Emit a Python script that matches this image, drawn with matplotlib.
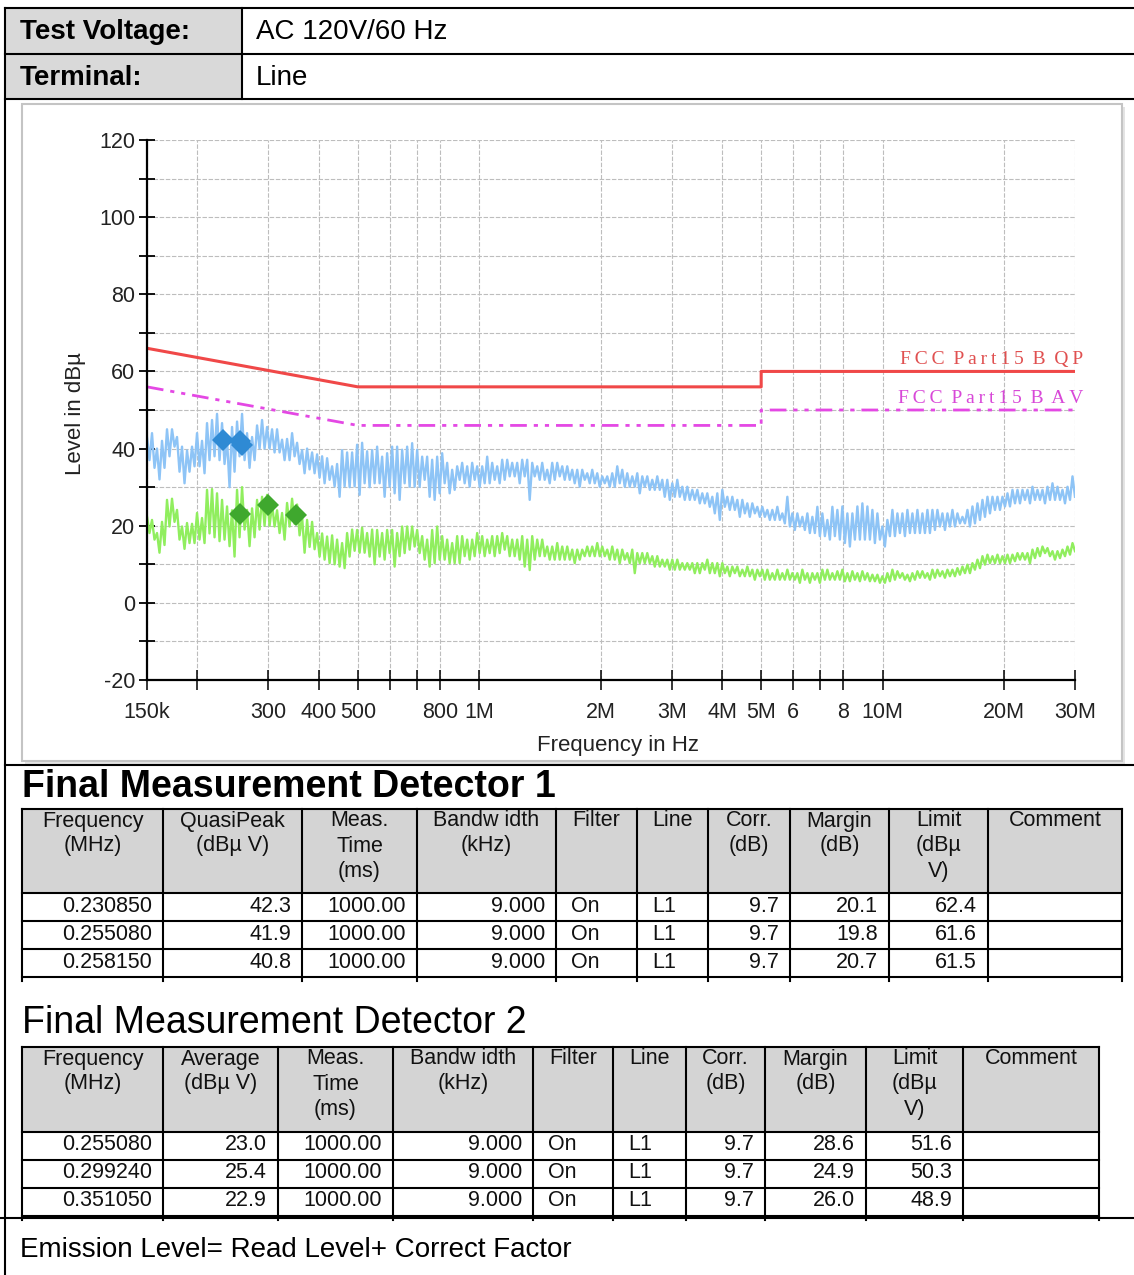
import numpy as np
import matplotlib
matplotlib.use("Agg")
import matplotlib.pyplot as plt
from matplotlib.lines import Line2D
from matplotlib.patches import Rectangle
from matplotlib.ticker import FixedLocator, NullLocator, FixedFormatter

# ---------------- data ----------------
TEST_VOLTAGE = "AC 120V/60 Hz"
TERMINAL = "Line"

# sweep range (MHz); the traces below are read as alternating (high, low) envelope samples
SWEEP_START_MHZ = 0.15
SWEEP_STOP_MHZ = 30.0

PEAK_HI = [43, 44, 40, 42, 45, 45, 43, 40.5, 39.5, 40.5,
           44, 42, 46.6, 47.4, 49, 46.6, 42.3, 45.6, 47, 49,
           44, 43, 46, 47.4, 45.6, 45, 45, 42.3, 42.5, 44,
           41.5, 39.6, 40, 39, 38.5, 38, 37.5, 35.4, 36, 39.6,
           39, 39, 41, 41.5, 39.3, 39.6, 40.5,
           37.9, 38.8, 40.5, 40.5, 39.7, 40.5, 41.4, 39.7, 37.9, 37.9,
           37.1, 37.9, 38.8, 36.3, 34.5, 35.4, 36.3, 35.4, 36.3, 35.4,
           35.4, 37.9, 36.3, 35.4, 37.1, 37.1, 36.3, 36.3, 37.1, 37.1,
           36.3, 35.4, 36.3, 34.5, 36.3, 36.3, 35.4, 35.4, 34.5, 34.5,
           34.5, 33.6, 34.5, 33.6, 32.8,
           32.8, 33.6, 35.4, 34.5, 33.6, 32.8, 33.6, 32.8, 32.8, 31.9,
           32.8, 31.9, 31.9, 31, 31.9, 30.1, 30.1, 29.3, 29.3, 28.4,
           28.4, 27.5, 28.4, 29.3, 27.5, 27.5, 26.7, 26.7, 25.8, 25.8,
           24.9, 24.9, 24.1, 24.1, 24.9, 23.2, 27.5, 23.2, 23.2, 22.3,
           23.2, 22.3, 24.9, 23.2, 21.5, 24.9,
           24.1, 25, 23.2, 23.2, 25, 25.8, 25, 24.1, 23.2, 19.8,
           21.5, 24.1, 23.2, 23.2, 24.1, 23.2, 24.1, 23.2, 24.1, 24.1,
           24.1, 23.2, 23.2, 24.1, 23.2, 22.3, 24.1, 25, 25.8, 26.7,
           27.5, 27.5, 27.5, 27.5, 28.4, 29.3, 29.3, 29.3, 29.3, 30.1,
           29.3, 29.3, 30.1, 31, 30.1, 29.3, 30.1, 32.8]
PEAK_LO = [37, 35, 32, 35, 38, 40.5, 34, 31, 34, 35.4,
           35.4, 33.6, 37, 38, 37, 36, 30, 34, 38, 37,
           35, 37, 40, 40, 40, 39, 39, 37, 37, 38,
           36, 33.6, 34.6, 33.6, 32.5, 31, 31.9, 30.2, 27.5, 30.2,
           30, 30.2, 28, 31, 30, 31, 31,
           27.5, 30.1, 28.4, 26.7, 31, 30.1, 30.1, 30.1, 31.9, 27.5,
           26.7, 28.4, 31, 28.4, 29.3, 31.9, 31, 30.1, 31.9, 30.1,
           31, 31, 31.9, 31, 31.9, 32.8, 32.8, 31, 32.8, 26.7,
           32.8, 31.9, 31.9, 31, 31.9, 32.8, 31.9, 31.9, 31, 30.1,
           31.9, 31, 31, 30.1, 31,
           30.1, 30.1, 31, 30.1, 30.1, 30.1, 28.4, 30.1, 29.3, 29.3,
           29.3, 27.5, 26.7, 27.5, 27.5, 26.7, 26.7, 26.7, 25.8, 25.8,
           24.9, 23.2, 21.5, 24.9, 24.1, 24.1, 22.3, 23.2, 22.3, 23.2,
           22.3, 22.3, 21.5, 21.5, 21.5, 20.6, 19.8, 18.9, 19.8, 18.9,
           18.1, 18.1, 17.3, 17.3, 16.4, 17.3,
           16.4, 15.5, 14.6, 16.4, 16.4, 16.4, 16.4, 15.5, 16.4, 14.6,
           17.3, 17.3, 18.1, 17.3, 18.1, 18.1, 18.1, 18.1, 18.1, 18.9,
           19.8, 18.9, 19.8, 19.8, 20.6, 20.6, 19.8, 20.6, 21.5, 22.3,
           23.2, 24.1, 24.1, 25, 25, 25.8, 25.8, 26.7, 25.8, 26.7,
           26.7, 25.8, 26.7, 26.7, 26.7, 25.8, 26.7, 27.5]

AVG_HI = [22.4, 21.5, 18.1, 21, 26.7, 27, 24.1, 19.8, 20.7, 20.5,
          23.3, 22, 29.3, 29.5, 28.4, 26.7, 25, 24, 29.3, 30,
          24.1, 24.5, 26.7, 27.5, 28, 25.5, 24, 23.3, 25.9, 27,
          25.5, 22.4, 21.5, 21, 18.1, 18, 17.2, 17.5, 16.4, 15.5,
          18.1, 19, 18.9, 19.5, 18.1, 19, 18.9,
          18.1, 18.9, 18.9, 18.1, 19.8, 19.8, 19.8, 18.9, 17.3, 16.4,
          18.9, 19.8, 17.3, 16.4, 15.5, 17.3, 17.3, 16.4, 16.4, 18.1,
          17.3, 16.4, 17.3, 17.3, 18.1, 17.3, 16.4, 16.4, 17.3, 16.4,
          17.3, 16.4, 16.4, 14.6, 14.6, 15.5, 14.6, 14.6, 13.8, 13.8,
          13.8, 14.6, 14.6, 15.5, 14.6,
          13.8, 14.6, 13.8, 13.8, 12.9, 13.8, 12.9, 12.9, 12.9, 12.1,
          12.1, 11.2, 11.2, 11.2, 11.2, 10.3, 10.3, 10.3, 10.3, 10.3,
          11.2, 10.3, 10.3, 10.3, 9.4, 9.4, 9.4, 8.6, 9.4, 8.6,
          8.6, 8.6, 8.6, 7.7, 8.6, 7.7, 8.6, 7.7, 7.7, 8.6,
          7.7, 7.7, 7.7, 8.6, 8.6, 7.7,
          8.2, 8.6, 7.7, 8.2, 7.7, 8.2, 7.7, 7.3, 7.3, 6.9,
          7.7, 8.6, 8.2, 7.7, 7.3, 7.7, 8.2, 8.2, 7.7, 8.6,
          8.6, 8.2, 8.6, 8.6, 9.0, 9.4, 9.9, 10.3, 11.2, 12.1,
          12.5, 12.1, 12.5, 12.1, 12.5, 12.5, 12.9, 12.9, 12.9, 13.8,
          14.2, 14.6, 14.2, 13.4, 13.4, 13.8, 14.6, 15.5]
AVG_LO = [18.1, 16.4, 13, 15, 19.8, 21, 16.4, 14, 15.5, 15.5,
          16.4, 15.5, 18, 17, 16, 16.4, 14.7, 12, 17, 19,
          14.7, 17, 19, 20, 20, 19.8, 18.1, 16.4, 19.8, 20.5,
          17.5, 13, 14.5, 13.9, 12, 11.2, 10.3, 10, 9.4, 9,
          12, 13.5, 13, 13, 12, 10, 12,
          11.2, 12.9, 9.4, 12.1, 12.9, 13.8, 14.6, 12.9, 11.2, 9.4,
          10.3, 11.2, 11.2, 10.3, 10.3, 10.3, 12.1, 11.2, 12.1, 12.9,
          12.1, 12.9, 12.1, 12.9, 13.8, 12.1, 12.1, 11.2, 9.4, 8.5,
          11.2, 12.1, 12.1, 11.2, 11.2, 11.2, 11.2, 11.2, 10.3, 11.2,
          12.1, 12.1, 12.1, 12.1, 12.1,
          11.2, 11.2, 10.3, 11.2, 10.3, 7.7, 10.3, 10.3, 10.3, 9.4,
          9.4, 9.4, 8.6, 8.6, 8.6, 8.6, 8.6, 7.7, 7.7, 8.6,
          7.7, 7.7, 6.9, 7.7, 6.9, 7.7, 6.9, 6.9, 6.9, 6.0,
          6.9, 6.0, 6.0, 6.0, 6.0, 6.0, 6.0, 6.0, 5.2, 6.0,
          5.2, 6.0, 5.2, 6.0, 6.0, 6.0,
          6.0, 5.6, 5.6, 6.0, 5.6, 6.0, 5.6, 5.6, 5.2, 5.2,
          5.6, 6.0, 6.5, 6.0, 5.6, 6.0, 6.5, 6.5, 6.0, 6.5,
          6.9, 6.5, 6.9, 6.9, 7.3, 7.7, 7.7, 8.6, 9.0, 9.9,
          10.3, 10.3, 10.3, 10.3, 10.3, 10.8, 11.2, 11.2, 10.3, 11.6,
          12.1, 12.9, 12.1, 11.2, 11.6, 12.1, 12.5, 13.4]

# limit lines (MHz, dBµV)
QP_LIMIT_F = [0.15, 0.5, 5.0, 5.0, 30.0]
QP_LIMIT_L = [66, 56, 56, 60, 60]
AV_LIMIT_F = [0.15, 0.5, 5.0, 5.0, 30.0]
AV_LIMIT_L = [56, 46, 46, 50, 50]

# final measurements
QP_FREQ = [0.230850, 0.255080, 0.258150]
QP_LEVEL = [42.3, 41.9, 40.8]
QP_MARGIN = [20.1, 19.8, 20.7]
QP_LIMIT = [62.4, 61.6, 61.5]
AV_FREQ = [0.255080, 0.299240, 0.351050]
AV_LEVEL = [23.0, 25.4, 22.9]
AV_MARGIN = [28.6, 24.9, 26.0]
AV_LIMIT = [51.6, 50.3, 48.9]
CORR = 9.7
MEAS_TIME = "1000.00"
BANDWIDTH = "9.000"

X_TICKS = [0.15, 0.2, 0.3, 0.4, 0.5, 0.6, 0.7, 0.8, 1, 2, 3, 4, 5, 6, 7, 8, 10, 20, 30]
X_TICK_LABELS = ['150k', '', '300', '400', '500', '', '', '800', '1M', '2M', '3M', '4M',
                 '5M', '6', '', '8', '10M', '20M', '30M']

# ---------------- figure ----------------
W, H = 1134, 1275
plt.rcParams['axes.unicode_minus'] = False
fig = plt.figure(figsize=(W / 100, H / 100), dpi=100)
fig.patch.set_facecolor('white')
SANS = ['Liberation Sans', 'DejaVu Sans']
SERIF = ['Liberation Serif', 'DejaVu Serif']
plt.rcParams['font.family'] = SANS


def fx(x):
    return x / W


def fy(y):
    return 1 - y / H


def hline(x0, x1, y, lw=1.5, color='black', z=5):
    fig.add_artist(Line2D([fx(x0), fx(x1)], [fy(y), fy(y)], transform=fig.transFigure,
                          color=color, lw=lw, zorder=z))


def vline(x, y0, y1, lw=1.5, color='black', z=5):
    fig.add_artist(Line2D([fx(x), fx(x)], [fy(y0), fy(y1)], transform=fig.transFigure,
                          color=color, lw=lw, zorder=z))


def rect(x0, y0, x1, y1, fc, ec='none', lw=0, z=-5):
    fig.add_artist(Rectangle((fx(x0), fy(y1)), (x1 - x0) / W, (y1 - y0) / H,
                             transform=fig.transFigure, facecolor=fc, edgecolor=ec,
                             lw=lw, zorder=z))


def text(x, y, s, size=15, ha='left', va='center', weight='normal', family=SANS, color='black', **kw):
    fig.text(fx(x), fy(y), s, fontsize=size, ha=ha, va=va, fontweight=weight,
             family=family, color=color, **kw)


# ---- header table ----
rect(6, 8, 242, 99, '#d9d9d9')
hline(5, 1134, 8)
hline(5, 1134, 54)
hline(5, 1134, 99)
vline(5, 8, 1275)
vline(242, 8, 99)
text(20, 32, "Test Voltage:", size=20, weight='bold')
text(20, 78, "Terminal:", size=20, weight='bold')
text(256, 32, TEST_VOLTAGE, size=20)
text(256, 78, TERMINAL, size=20)

# ---- chart frame ----
rect(25, 107, 1125, 764, '#e4e4e4', z=-6)
rect(22, 104, 1122, 761, 'white', ec='#c4c4c4', lw=1.5, z=-5)
hline(5, 1134, 765)

# ---- chart axes ----
ax = fig.add_axes([fx(147), fy(680), 928 / W, 540 / H])
ax.set_facecolor('none')
ax.set_xscale('log')

sweep = np.geomspace(SWEEP_START_MHZ, SWEEP_STOP_MHZ, 2 * len(PEAK_HI))
peak_trace = np.column_stack([PEAK_HI, PEAK_LO]).ravel()
avg_trace = np.column_stack([AVG_HI, AVG_LO]).ravel()

ax.plot(sweep, peak_trace, color='#8EC4F6', lw=1.7, zorder=3)
ax.plot(sweep, avg_trace, color='#90EE5E', lw=1.7, zorder=3)
ax.plot(QP_LIMIT_F, QP_LIMIT_L, color='#F04848', lw=2.2, zorder=4, solid_capstyle='butt')
ax.plot(AV_LIMIT_F, AV_LIMIT_L, color='#E448E4', lw=2.0, zorder=4,
        linestyle=(0, (6, 2.5, 1.5, 2.5, 1.5, 2.5)))
ax.plot(QP_FREQ, QP_LEVEL, linestyle='none', marker='D', ms=11, mew=0,
        color='#2F8AD4', zorder=5)
ax.plot(AV_FREQ, AV_LEVEL, linestyle='none', marker='D', ms=11, mew=0,
        color='#3FA82E', zorder=5)

ax.set_xlim(0.15, 30)
ax.set_ylim(-20, 120)
ax.xaxis.set_major_locator(FixedLocator(X_TICKS))
ax.xaxis.set_major_formatter(FixedFormatter(X_TICK_LABELS))
ax.xaxis.set_minor_locator(NullLocator())
ax.yaxis.set_major_locator(FixedLocator(list(range(-20, 121, 20))))
ax.yaxis.set_minor_locator(FixedLocator(list(range(-10, 111, 20))))

for s in ['top', 'right']:
    ax.spines[s].set_visible(False)
for s in ['left', 'bottom']:
    ax.spines[s].set_linewidth(1.6)
    ax.spines[s].set_color('black')
    ax.spines[s].set_zorder(6)

ax.tick_params(axis='x', which='major', direction='inout', length=15, width=1.1,
               pad=8, labelsize=15.5, labelcolor='#222222')
ax.tick_params(axis='y', which='both', direction='inout', length=11, width=1.3,
               pad=3, labelsize=15.5, labelcolor='#222222')
ax.grid(True, which='major', axis='x', color='#bdbdbd', lw=0.8, linestyle=(0, (4, 1.5)))
ax.grid(True, which='both', axis='y', color='#bdbdbd', lw=0.8, linestyle=(0, (4, 1.5)))
ax.set_axisbelow(True)

text(618, 745, "Frequency in Hz", size=16, ha='center', color='#222222')
text(75, 414, "Level in dBµ", size=16, ha='center', rotation=90, color='#222222')

ax.text(1.0086, 0.5926, "F\u2009C\u2009C\u2009 P\u2009a\u2009r\u2009t\u20091\u20095\u2009 B\u2009 Q\u2009P",
        transform=ax.transAxes, ha='right', va='center', fontsize=14, family=SERIF,
        color='#E05050', zorder=6)
ax.text(1.0086, 0.522, "F\u2009C\u2009C\u2009 P\u2009a\u2009r\u2009t\u20091\u20095\u2009 B\u2009 A\u2009V",
        transform=ax.transAxes, ha='right', va='center', fontsize=14, family=SERIF,
        color='#D848D8', zorder=6)


# ---- measurement tables ----
def draw_table(edges, top, head_bottom, row_h, headers, rows, aligns):
    n = len(rows)
    bottom = head_bottom + n * row_h
    rect(edges[0], top, edges[-1], head_bottom, '#d4d4d4')
    hline(edges[0], edges[-1], top)
    hline(edges[0], edges[-1], head_bottom)
    for r in range(1, n + 1):
        hline(edges[0], edges[-1], head_bottom + r * row_h)
    for e in edges:
        vline(e, top, bottom + 4)
    for c, h in enumerate(headers):
        cx = (edges[c] + edges[c + 1]) / 2
        for k, line in enumerate(h.split('\n')):
            text(cx, top + 12 + 25 * k, line, size=15.5, ha='center', color='#111111')
    for r, row in enumerate(rows):
        cy = head_bottom + r * row_h + 13
        for c, val in enumerate(row):
            if aligns[c] == 'r':
                text(edges[c + 1] - 11, cy, val, size=15.5, ha='right', color='#111111')
            else:
                text(edges[c] + 15, cy, val, size=15.5, ha='left', color='#111111')


aligns = ['r', 'r', 'r', 'r', 'l', 'l', 'r', 'r', 'r', 'l']

text(22, 787, "Final Measurement Detector 1", size=27, weight='bold')
hdr1 = ["Frequency\n(MHz)", "QuasiPeak\n(dBµ V)", "Meas.\nTime\n(ms)", "Bandw idth\n(kHz)",
        "Filter", "Line", "Corr.\n(dB)", "Margin\n(dB)", "Limit\n(dBµ\nV)", "Comment"]
rows1 = [[f"{QP_FREQ[i]:.6f}", f"{QP_LEVEL[i]:.1f}", MEAS_TIME, BANDWIDTH, "On", "L1",
          f"{CORR:.1f}", f"{QP_MARGIN[i]:.1f}", f"{QP_LIMIT[i]:.1f}", ""] for i in range(3)]
draw_table([22, 163, 302, 417, 556, 637, 708, 790, 889, 988, 1122], 809, 893, 28,
           hdr1, rows1, aligns)

text(22, 1023, "Final Measurement Detector 2", size=27)
hdr2 = ["Frequency\n(MHz)", "Average\n(dBµ V)", "Meas.\nTime\n(ms)", "Bandw idth\n(kHz)",
        "Filter", "Line", "Corr.\n(dB)", "Margin\n(dB)", "Limit\n(dBµ\nV)", "Comment"]
rows2 = [[f"{AV_FREQ[i]:.6f}", f"{AV_LEVEL[i]:.1f}", MEAS_TIME, BANDWIDTH, "On", "L1",
          f"{CORR:.1f}", f"{AV_MARGIN[i]:.1f}", f"{AV_LIMIT[i]:.1f}", ""] for i in range(3)]
draw_table([22, 163, 278, 393, 533, 613, 686, 765, 866, 963, 1099], 1047, 1132, 28,
           hdr2, rows2, aligns)

hline(0, 1134, 1218)
text(20, 1250, "Emission Level= Read Level+ Correct Factor", size=20)

fig.savefig('out.png', dpi=100)
